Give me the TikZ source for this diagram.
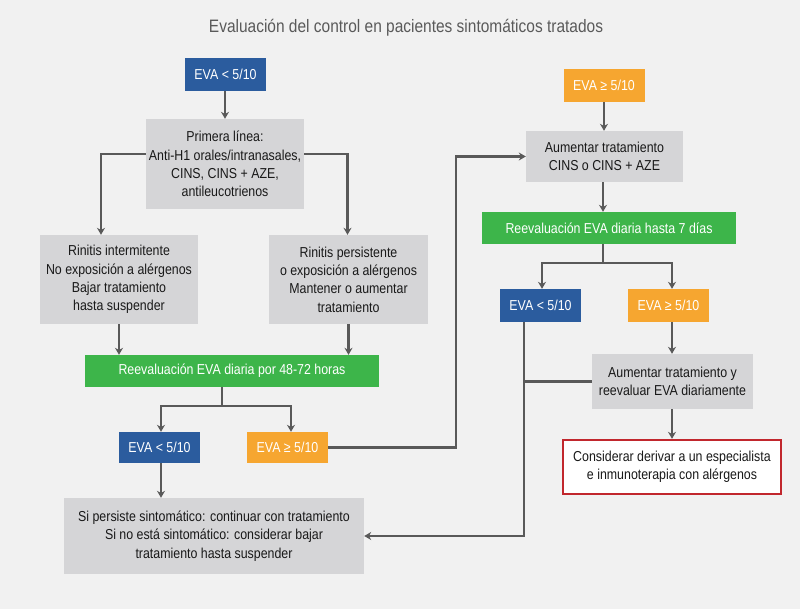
\documentclass[tikz,border=0pt]{standalone}
\usepackage{fontspec}
\setmainfont{Liberation Sans}[FakeStretch=0.86]
\usetikzlibrary{arrows.meta}
\definecolor{bg}{HTML}{F1F1F1}
\definecolor{boxgray}{HTML}{D5D5D7}
\definecolor{evablue}{HTML}{2B5C9E}
\definecolor{evaorange}{HTML}{F6A630}
\definecolor{evagreen}{HTML}{3DB54A}
\definecolor{evared}{HTML}{C1272D}
\definecolor{linegray}{HTML}{595959}
\definecolor{titlegray}{HTML}{5A5A5A}
\tikzset{
  base/.style={rectangle, inner sep=0pt, align=center, font=\fontsize{14.4}{18.3}\selectfont},
  graybox/.style={base, fill=boxgray, text=black!90},
  bluebox/.style={base, fill=evablue, text=white, minimum width=81pt, minimum height=33pt},
  orangebox/.style={base, fill=evaorange, text=white, minimum width=81pt, minimum height=33pt},
  greenbox/.style={base, fill=evagreen, text=white, minimum height=32pt},
  redbox/.style={base, fill=white, draw=evared, line width=2.4pt, text=black!90},
  conn/.style={draw=linegray, line width=2.3pt},
  arr/.style={conn, -{Stealth[length=7pt,width=8pt]}},
}
\begin{document}
\begin{tikzpicture}[x=1pt,y=-1pt]
\fill[bg] (0,0) rectangle (800,609);
\useasboundingbox (0,0) rectangle (800,609);

\node[font=\fontsize{18}{22}\selectfont, text=titlegray, anchor=base, inner sep=0pt] (title) at (406,33) {Evaluación del control en pacientes sintomáticos tratados};

% left column
\node[bluebox] (e1) at (225.5,74.5) {EVA < 5/10};
\node[graybox, minimum width=158pt, minimum height=90pt] (prim) at (225,164) {Primera línea:\\Anti-H1 orales/intranasales,\\CINS, CINS + AZE,\\antileucotrienos};
\node[graybox, minimum width=158pt, minimum height=89pt] (ri) at (119,279.5) {Rinitis intermitente\\No exposición a alérgenos\\Bajar tratamiento\\hasta suspender};
\node[graybox, minimum width=159pt, minimum height=89pt] (rp) at (348.5,279.5) {Rinitis persistente\\o exposición a alérgenos\\Mantener o aumentar\\tratamiento};
\node[greenbox, minimum width=294pt] (g1) at (232,371) {Reevaluación EVA diaria por 48-72 horas};
\node[bluebox, minimum height=31pt] (b2) at (159.5,447.5) {EVA < 5/10};
\node[orangebox, minimum height=31pt] (o2) at (287.5,447.5) {EVA ≥ 5/10};
\node[graybox, minimum width=300pt, minimum height=76pt] (bot) at (214,536) {Si persiste sintomático: continuar con tratamiento\\Si no está sintomático: considerar bajar\\tratamiento hasta suspender};

% right column
\node[orangebox] (o1) at (604,85.5) {EVA ≥ 5/10};
\node[graybox, minimum width=157pt, minimum height=51pt] (aum) at (604.5,156.5) {Aumentar tratamiento\\CINS o CINS + AZE};
\node[greenbox, minimum width=254pt] (g2) at (609,228) {Reevaluación EVA diaria hasta 7 días};
\node[bluebox] (b3) at (540.5,305.5) {EVA < 5/10};
\node[orangebox] (o3) at (668.5,305.5) {EVA ≥ 5/10};
\node[graybox, minimum width=161pt, minimum height=55pt] (aum2) at (672.5,381.5) {Aumentar tratamiento y\\reevaluar EVA diariamente};
\node[redbox, minimum width=218pt, minimum height=54pt] (red) at (672,467) {Considerar derivar a un especialista\\e inmunoterapia con alérgenos};

% junctions
\coordinate (j1) at (222,406);
\coordinate (j2) at (603,263);
\coordinate (v3) at (524,0);

% connectors left
\draw[arr] (e1.south -| prim.north) -- (prim.north);
\draw[arr] ([yshift=10pt]prim.west) -| ([xshift=-18pt]ri.north);
\draw[arr] ([yshift=10pt]prim.east) -| ([xshift=-1pt]rp.north);
\draw[arr] (ri.south) -- (ri.south |- g1.north);
\draw[arr] (rp.south) -- (rp.south |- g1.north);
\draw[conn] (g1.south -| j1) -- (j1);
\draw[arr] (j1) -| ([xshift=1.5pt]b2.north);
\draw[arr] (j1) -| ([xshift=3.5pt]o2.north);
\draw[arr] ([xshift=1.5pt]b2.south) -- ([xshift=1.5pt]b2.south |- bot.north);
\draw[arr] (o2.east) -| ([xshift=-70pt]aum.west) -- (aum.west);

% connectors right
\draw[arr] (o1.south) -- (o1.south |- aum.north);
\draw[arr] (aum.south -| j2) -- (g2.north -| j2);
\draw[conn] (g2.south -| j2) -- (j2);
\draw[arr] (j2) -| ([xshift=1.5pt]b3.north);
\draw[arr] (j2) -| ([xshift=3.5pt]o3.north);
\draw[arr] (b3.south -| v3) |- (bot.east);
\draw[conn] (aum2.west) -- (aum2.west -| v3);
\draw[arr] ([xshift=3.5pt]o3.south) -- ([xshift=3.5pt]o3.south |- aum2.north);
\draw[arr] (aum2.south -| red.north) -- (red.north);
\end{tikzpicture}
\end{document}
